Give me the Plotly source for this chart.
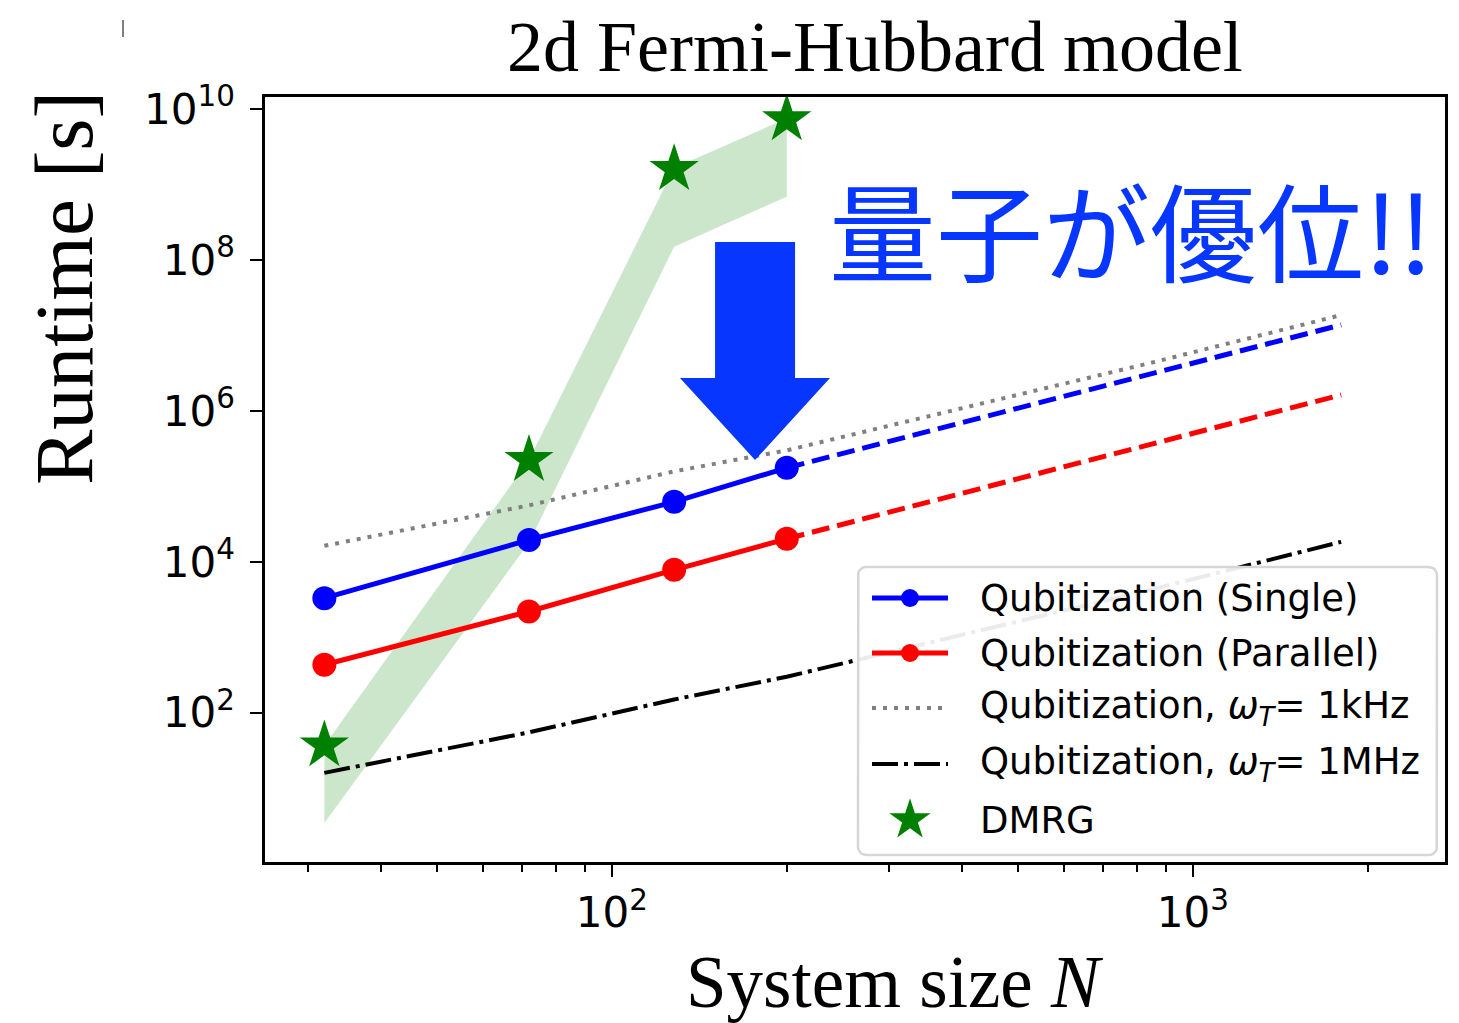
import math
import plotly.graph_objects as go

# ---- data ----
N = [32, 72, 128, 200]
N_ext = [200, 1800]
single = [3300, 19500, 62400, 176000]
single_ext = [176000, 1.38e7]
parallel = [433, 2200, 7830, 20200]
parallel_ext = [20200, 1.63e6]

N_rate = [32, 72, 128, 200, 860, 1800]
khz_1 = [1.63e4, 5.6e4, 1.58e5, 3.0e5, 4.46e6, 1.86e7]
mhz_1 = [16, 55, 150, 300, 4400, 18400]

dmrg = [37, 2.24e5, 1.6e9, 7.3e9]
dmrg_upper = [37, 2.24e5, 1.65e9, 7.5e9]
dmrg_lower = [3.46, 1.79e4, 1.5e8, 6.9e8]

x_tickvals = [100, 1000]
x_ticktext = ["10<sup>2</sup>", "10<sup>3</sup>"]
x_minor = [30, 40, 50, 60, 70, 80, 90, 200, 300, 400, 500, 600, 700, 800, 900, 2000]
y_tickvals = [1e2, 1e4, 1e6, 1e8, 1e10]
y_ticktext = ["10<sup>2</sup>", "10<sup>4</sup>", "10<sup>6</sup>", "10<sup>8</sup>", "10<sup>10</sup>"]

legend_labels = [
    "Qubitization (Single)",
    "Qubitization (Parallel)",
    "Qubitization, <i>ω</i><sub><i>T</i></sub>= 1kHz",
    "Qubitization, <i>ω</i><sub><i>T</i></sub>= 1MHz",
    "DMRG",
]

BLUE = "#0000ff"
RED = "#ff0000"
GREEN = "#008000"
GRAY = "#808080"
ARROW = "#0736ff"

LW = 5
DASHED = "18px,8px"
DOTTED = "4px,7px"
DASHDOT = "26px,6px,4px,6px"

# ---- page geometry (page pixels; page has an 8px body margin) ----
OFF = 8
PAGE_W, PAGE_H = 1459, 1023
L, R, T, B = 265, 1445, 97, 862


def px(x):
    return (x - L) / (R - L)


def py(y):
    return (B - y) / (B - T)


fig = go.Figure()

# shaded DMRG band
fig.add_trace(go.Scatter(
    x=N + N[::-1], y=dmrg_upper + dmrg_lower[::-1],
    fill="toself", fillcolor="rgba(0,128,0,0.2)", line=dict(width=0),
    mode="lines", showlegend=False, hoverinfo="skip"))

fig.add_trace(go.Scatter(x=N, y=single, mode="lines+markers",
                         line=dict(color=BLUE, width=LW), marker=dict(size=24, color=BLUE)))
fig.add_trace(go.Scatter(x=N_ext, y=single_ext, mode="lines",
                         line=dict(color=BLUE, width=LW, dash=DASHED)))
fig.add_trace(go.Scatter(x=N, y=parallel, mode="lines+markers",
                         line=dict(color=RED, width=LW), marker=dict(size=24, color=RED)))
fig.add_trace(go.Scatter(x=N_ext, y=parallel_ext, mode="lines",
                         line=dict(color=RED, width=LW, dash=DASHED)))
fig.add_trace(go.Scatter(x=N_rate, y=khz_1, mode="lines",
                         line=dict(color=GRAY, width=4, dash=DOTTED)))
fig.add_trace(go.Scatter(x=N_rate, y=mhz_1, mode="lines",
                         line=dict(color="black", width=4, dash=DASHDOT)))
fig.add_trace(go.Scatter(x=N, y=dmrg, mode="markers",
                         marker=dict(symbol="star", size=37, color=GREEN, line=dict(width=0))))

# ---- hand-drawn legend on an overlay (paper-like 0..1) axis pair ----
box_l, box_r, box_t, box_b, rad = 858, 1437, 567, 855, 8
corners = [(box_r - rad, box_t + rad, -90, 0), (box_r - rad, box_b - rad, 0, 90),
           (box_l + rad, box_b - rad, 90, 180), (box_l + rad, box_t + rad, 180, 270)]
bx, by = [], []
for cx, cy, a0, a1 in corners:
    for k in range(7):
        a = math.radians(a0 + (a1 - a0) * k / 6)
        bx.append(px(cx + rad * math.cos(a)))
        by.append(py(cy + rad * math.sin(a)))
bx.append(bx[0])
by.append(by[0])
fig.add_trace(go.Scatter(x=bx, y=by, xaxis="x2", yaxis="y2", mode="lines",
                         fill="toself", fillcolor="rgba(255,255,255,0.92)",
                         line=dict(color="#d6d6d6", width=2.5), hoverinfo="skip"))

row_y = [598, 653, 708, 764, 820]
sym_x0, sym_x1, sym_xc, text_x = 872, 948, 910, 978
row_styles = [
    dict(color=BLUE, width=LW, dash="solid"),
    dict(color=RED, width=LW, dash="solid"),
    dict(color=GRAY, width=4, dash=DOTTED),
    dict(color="black", width=4, dash=DASHDOT),
]
for yy, st in zip(row_y[:4], row_styles):
    fig.add_trace(go.Scatter(x=[px(sym_x0), px(sym_x1)], y=[py(yy), py(yy)],
                             xaxis="x2", yaxis="y2", mode="lines", line=st, hoverinfo="skip"))
fig.add_trace(go.Scatter(x=[px(sym_xc), px(sym_xc)], y=[py(row_y[0]), py(row_y[1])],
                         xaxis="x2", yaxis="y2", mode="markers",
                         marker=dict(size=18, color=[BLUE, RED]), hoverinfo="skip"))
fig.add_trace(go.Scatter(x=[px(sym_xc)], y=[py(row_y[4])], xaxis="x2", yaxis="y2",
                         mode="markers", hoverinfo="skip",
                         marker=dict(symbol="star", size=31, color=GREEN, line=dict(width=0))))

annotations = [
    dict(text="2d Fermi-Hubbard model", x=px(875), y=py(47),
         font=dict(family="Liberation Serif", size=72, color="black")),
    dict(text="System size <i>N</i>", x=px(895), y=py(983),
         font=dict(family="Liberation Serif", size=73, color="black")),
    dict(text="Runtime [s]", x=px(64), y=py(288), textangle=-90,
         font=dict(family="Liberation Serif", size=83, color="black")),
    dict(text="量子が優位!!", x=px(1131), y=py(228),
         font=dict(family="Noto Sans CJK JP", size=107, color=ARROW)),
]
for a in annotations:
    a.update(xref="paper", yref="paper", xanchor="center", yanchor="middle", showarrow=False)
for yy, lab in zip(row_y, legend_labels):
    annotations.append(dict(text=lab, xref="paper", yref="paper", x=px(text_x), y=py(yy),
                            xanchor="left", yanchor="middle", showarrow=False,
                            font=dict(family="DejaVu Sans", size=37, color="black")))

arrow_pts = [(715, 242), (795, 242), (795, 378), (830, 378), (755, 460), (680, 378), (715, 378)]
path = "M " + " L ".join(f"{px(a):.4f},{py(b):.4f}" for a, b in arrow_pts) + " Z"

fig.update_layout(
    width=PAGE_W - OFF, height=PAGE_H - OFF,
    margin=dict(l=L - OFF, r=PAGE_W - R, t=T - OFF, b=PAGE_H - B, pad=0),
    paper_bgcolor="white", plot_bgcolor="white",
    font=dict(family="DejaVu Sans", color="black", size=40),
    showlegend=False,
    shapes=[
        dict(type="path", xref="paper", yref="paper", path=path,
             fillcolor=ARROW, line=dict(width=0), layer="above"),
        dict(type="line", xref="paper", yref="paper", x0=px(123), x1=px(123),
             y0=py(20), y1=py(37), line=dict(color="black", width=1)),
    ],
    annotations=annotations,
    xaxis2=dict(overlaying="x", anchor="y2", range=[0, 1], visible=False, fixedrange=True),
    yaxis2=dict(overlaying="y", anchor="x2", range=[0, 1], visible=False, fixedrange=True),
)

fig.update_layout(
    xaxis=dict(type="log", range=[1.403, 3.434],
               tickmode="array", tickvals=x_tickvals, ticktext=x_ticktext,
               ticks="outside", ticklen=12, tickwidth=2, tickcolor="black",
               minor=dict(tickmode="array", tickvals=x_minor, ticks="outside",
                          ticklen=7, tickwidth=1.5, tickcolor="black", showgrid=False),
               showline=True, linewidth=2.5, linecolor="black", mirror=True,
               showgrid=False, zeroline=False,
               tickfont=dict(family="DejaVu Sans", size=42)),
    yaxis=dict(type="log", range=[0.023, 10.159],
               tickmode="array", tickvals=y_tickvals, ticktext=y_ticktext,
               ticks="outside", ticklen=12, tickwidth=2, tickcolor="black",
               ticklabelstandoff=7,
               showline=True, linewidth=2.5, linecolor="black", mirror=True,
               showgrid=False, zeroline=False,
               tickfont=dict(family="DejaVu Sans", size=42)),
)

fig.write_html("out.html")
